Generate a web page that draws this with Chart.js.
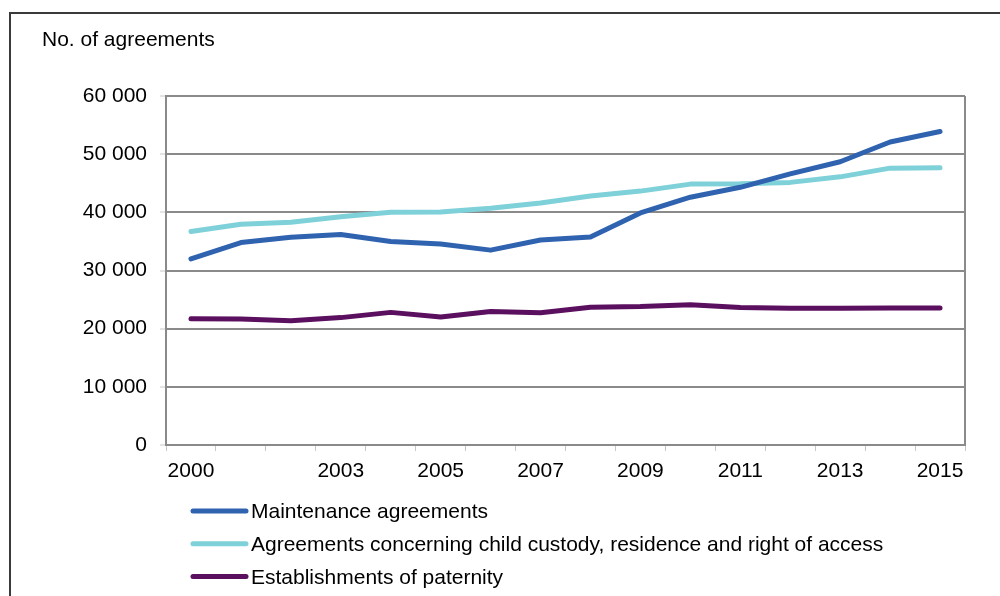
<!DOCTYPE html>
<html>
<head>
<meta charset="utf-8">
<script src="https://cdn.jsdelivr.net/npm/chart.js@4/dist/chart.umd.min.js"></script>
<style>
  html, body { margin: 0; padding: 0; background: #fff; }
  #wrap { position: relative; width: 1000px; height: 596px; overflow: hidden; }
  #frame { position: absolute; left: 9px; top: 12px; width: 1200px; height: 800px; border: 2px solid #3a3a3a; box-sizing: border-box; }
  #c { position: absolute; left: 0; top: 0; }
</style>
</head>
<body>
<div id="wrap">
  <div id="frame"></div>
  <canvas id="c" width="1000" height="596"></canvas>
</div>
<script>
const years = ['2000','2001','2002','2003','2004','2005','2006','2007','2008','2009','2010','2011','2012','2013','2014','2015'];
const shownYears = ['2000','2003','2005','2007','2009','2011','2013','2015'];
const maintenance = [32000, 34800, 35700, 36200, 35000, 34550, 33500, 35250, 35750, 39900, 42600, 44300, 46600, 48700, 52100, 53900];
const custody = [36700, 37950, 38300, 39250, 40000, 40050, 40700, 41600, 42800, 43650, 44850, 44900, 45150, 46100, 47600, 47650];
const paternity = [21700, 21650, 21350, 21900, 22800, 22000, 22950, 22750, 23700, 23800, 24100, 23650, 23500, 23500, 23550, 23550];
const seriesNames = ['Maintenance agreements', 'Agreements concerning child custody, residence and right of access', 'Establishments of paternity'];
const yTicks = [0, 10000, 20000, 30000, 40000, 50000, 60000];
const yTitle = 'No. of agreements';

const colors = ['#2f63b0', '#7fd1d9', '#5b0f5f'];
const FONT = '"Liberation Sans", Arial, sans-serif';

function fmt(v) {
  return String(v).replace(/\B(?=(\d{3})+(?!\d))/g, ' ');
}

const extras = {
  id: 'extras',
  afterDraw(chart) {
    const ctx = chart.ctx;
    const a = chart.chartArea;
    ctx.save();
    // right border of plot
    ctx.strokeStyle = '#8a8a8a';
    ctx.lineWidth = 2;
    ctx.beginPath();
    ctx.moveTo(a.right, a.top);
    ctx.lineTo(a.right, a.bottom);
    ctx.stroke();
    // y title
    ctx.fillStyle = '#000';
    ctx.font = '21px ' + FONT;
    ctx.textAlign = 'left';
    ctx.textBaseline = 'alphabetic';
    ctx.fillText(yTitle, 42, 46);
    // legend
    chart.data.datasets.forEach((ds, i) => {
      const y = 511 + i * 32.8;
      ctx.strokeStyle = ds.borderColor;
      ctx.lineWidth = 5;
      ctx.lineCap = 'round';
      ctx.beginPath();
      ctx.moveTo(193, y);
      ctx.lineTo(246, y);
      ctx.stroke();
      ctx.fillStyle = '#000';
      ctx.fillText(ds.label, 251, y + 7);
    });
    ctx.restore();
  }
};

new Chart(document.getElementById('c'), {
  type: 'line',
  data: {
    labels: years,
    datasets: [
      { label: seriesNames[0], data: maintenance, borderColor: colors[0], backgroundColor: colors[0] },
      { label: seriesNames[1], data: custody, borderColor: colors[1], backgroundColor: colors[1] },
      { label: seriesNames[2], data: paternity, borderColor: colors[2], backgroundColor: colors[2] }
    ].map(d => Object.assign(d, { borderWidth: 5, pointRadius: 0, pointHoverRadius: 0, tension: 0, borderCapStyle: 'round', borderJoinStyle: 'round', fill: false }))
  },
  options: {
    responsive: false,
    animation: false,
    devicePixelRatio: 1,
    layout: { padding: { left: 40, right: 35, top: 96, bottom: 100 } },
    plugins: { legend: { display: false }, title: { display: false }, tooltip: { enabled: false } },
    scales: {
      x: {
        offset: true,
        grid: { display: true, drawOnChartArea: false, offset: true, tickLength: 6, tickColor: '#c8c8c8', tickWidth: 1 },
        border: { display: true, color: '#8a8a8a', width: 2 },
        ticks: {
          autoSkip: false, maxRotation: 0, minRotation: 0, padding: 8,
          color: '#000', font: { family: FONT, size: 21 },
          callback: function(v) { const l = this.getLabelForValue(v); return shownYears.includes(l) ? l : ''; }
        },
        afterFit: (s) => { s.height = 51; }
      },
      y: {
        min: 0, max: 60000,
        afterBuildTicks: (s) => { s.ticks = yTicks.map(v => ({ value: v })); },
        grid: { color: '#8a8a8a', lineWidth: 2, tickLength: 6, tickColor: '#c8c8c8', tickWidth: 1 },
        border: { display: true, color: '#8a8a8a', width: 2 },
        ticks: { padding: 13, color: '#000', font: { family: FONT, size: 21 }, callback: (v) => fmt(v) },
        afterFit: (s) => { s.width = 126; }
      }
    }
  },
  plugins: [extras]
});
</script>
</body>
</html>
